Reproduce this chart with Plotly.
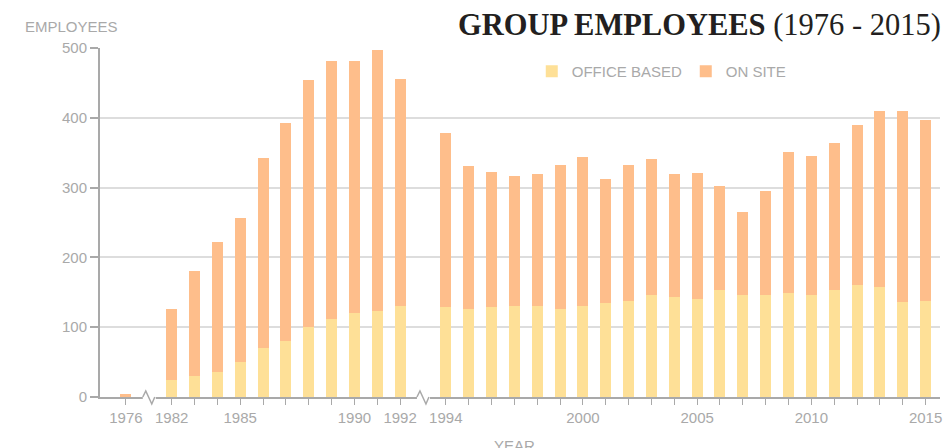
import plotly.graph_objects as go

# ---- data ----
years = [1976, 1982, 1983, 1984, 1985, 1986, 1987, 1988, 1989, 1990, 1991, 1992,
         1994, 1995, 1996, 1997, 1998, 1999, 2000, 2001, 2002, 2003, 2004, 2005,
         2006, 2007, 2008, 2009, 2010, 2011, 2012, 2013, 2014, 2015]
office_based = [0, 24, 30, 36, 50, 70, 80, 100, 112, 120, 123, 130,
                129, 126, 129, 130, 130, 126, 130, 135, 137, 146, 143, 140,
                153, 146, 146, 149, 146, 153, 160, 158, 136, 137]
on_site = [5, 102, 150, 186, 207, 273, 313, 354, 369, 361, 374, 326,
           249, 205, 193, 187, 190, 206, 214, 177, 195, 195, 177, 181,
           149, 119, 149, 202, 199, 211, 230, 252, 274, 260]
labeled_years = [1976, 1982, 1985, 1990, 1992, 1994, 2000, 2005, 2010, 2015]
break_after = [1976, 1992]   # axis breaks (one empty slot each)
y_ticks = [0, 100, 200, 300, 400, 500]

# map years to slots on the axis, leaving one slot for each break
slots = []
break_slots = []
s = 0
for yv in years:
    slots.append(s)
    s += 1
    if yv in break_after:
        break_slots.append(s)
        s += 1

X_RANGE = [-1.135, 35.63]
GRAY = "#a9a9a9"
FONT = "Liberation Sans, Arial, sans-serif"

fig = go.Figure()
fig.add_trace(go.Bar(x=slots, y=office_based, name="OFFICE BASED",
                     marker=dict(color="#FEE097", line=dict(width=0))))
fig.add_trace(go.Bar(x=slots, y=on_site, name="ON SITE",
                     marker=dict(color="#FEBE8B", line=dict(width=0))))

shapes = []
for b in break_slots:
    bx = (b - X_RANGE[0]) / (X_RANGE[1] - X_RANGE[0])
    shapes.append(dict(type="line", xref="paper", yref="paper", xsizemode="pixel", ysizemode="pixel",
                       xanchor=bx, yanchor=0, x0=-6, x1=7, y0=0, y1=0,
                       line=dict(color="white", width=4), layer="above"))
    shapes.append(dict(type="path", xref="paper", yref="paper", xsizemode="pixel", ysizemode="pixel",
                       xanchor=bx, yanchor=0,
                       path="M-6,0 L-3,6 L3,-7 L6,0",
                       line=dict(color=GRAY, width=1.5), layer="above"))

fig.update_layout(
    width=947, height=448,
    margin=dict(l=100, r=5, t=48, b=51),
    paper_bgcolor="white", plot_bgcolor="white",
    barmode="stack", bargap=0.52,
    font=dict(family=FONT, color=GRAY, size=15),
    showlegend=True,
    legend=dict(orientation="h", x=0.514, xanchor="left", y=0.933, yanchor="middle",
                font=dict(size=15, color=GRAY), bgcolor="rgba(0,0,0,0)",
                entrywidth=109, entrywidthmode="pixels", traceorder="normal"),
    xaxis=dict(range=X_RANGE, tickvals=slots,
               ticktext=[str(y) if y in labeled_years else "" for y in years],
               ticks="outside", ticklen=6, tickcolor=GRAY, tickwidth=1,
               showline=True, linecolor=GRAY, linewidth=1.5,
               showgrid=False, zeroline=False,
               tickfont=dict(size=15, color=GRAY, family=FONT)),
    yaxis=dict(range=[0, 500], tickvals=y_ticks, ticks="outside", ticklen=8,
               tickcolor=GRAY, tickwidth=1.5,
               showline=True, linecolor=GRAY, linewidth=2,
               showgrid=True, gridcolor="#dddddd", gridwidth=1.5, zeroline=False,
               tickfont=dict(size=15, color=GRAY, family=FONT)),
    shapes=shapes,
    annotations=[
        dict(text="<b>GROUP EMPLOYEES</b> (1976 - 2015)", xref="paper", yref="paper",
             x=1.003, y=1.065, xanchor="right", yanchor="middle", showarrow=False,
             font=dict(family="Liberation Serif, Times New Roman, serif", size=30.5, color="#231f20")),
        dict(text="EMPLOYEES", xref="paper", yref="paper", x=-0.0915, y=1.063,
             xanchor="left", yanchor="middle", showarrow=False,
             font=dict(size=15, color=GRAY, family=FONT)),
        dict(text="YEAR", xref="paper", yref="paper", x=0.493, y=-0.109,
             xanchor="center", yanchor="top", showarrow=False,
             font=dict(size=15, color=GRAY, family=FONT)),
    ],
)

fig.write_html("out.html", config={"displayModeBar": False},
               post_script="document.body.style.margin='0';document.body.style.overflow='hidden';")
